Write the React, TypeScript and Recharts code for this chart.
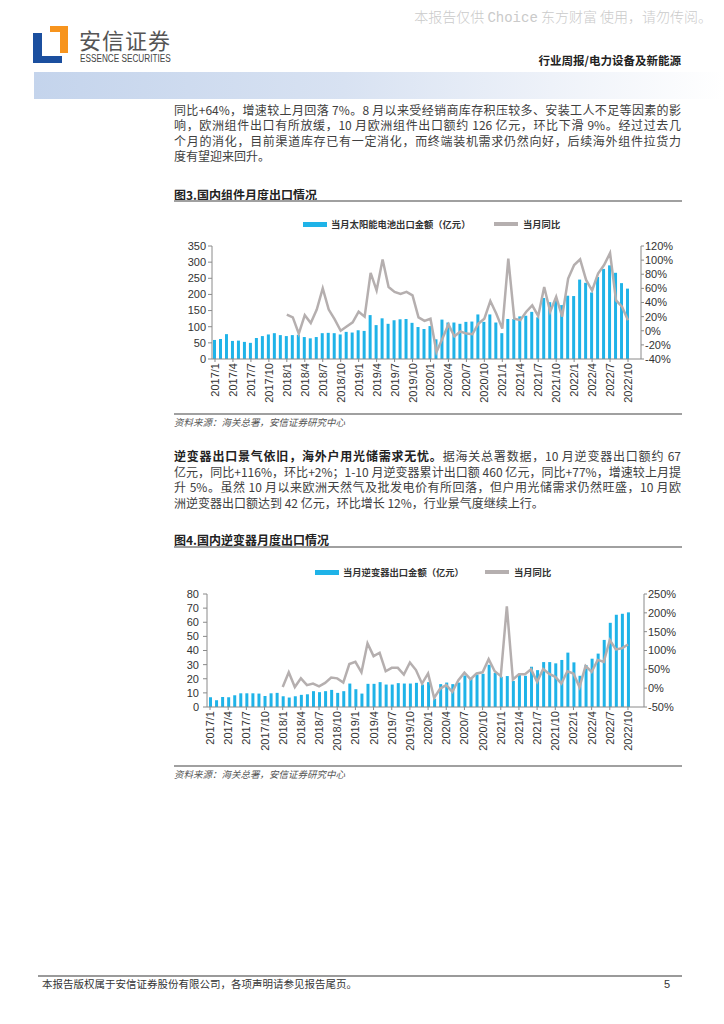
import React from 'react'
import { ComposedChart, Bar, Line, XAxis, YAxis } from 'recharts'

// month categories, 2017/1 .. 2022/10
const months = [
  '2017/1', '2017/2', '2017/3', '2017/4', '2017/5', '2017/6', '2017/7', '2017/8', '2017/9', '2017/10', '2017/11', '2017/12',
  '2018/1', '2018/2', '2018/3', '2018/4', '2018/5', '2018/6', '2018/7', '2018/8', '2018/9', '2018/10', '2018/11', '2018/12',
  '2019/1', '2019/2', '2019/3', '2019/4', '2019/5', '2019/6', '2019/7', '2019/8', '2019/9', '2019/10', '2019/11', '2019/12',
  '2020/1', '2020/2', '2020/3', '2020/4', '2020/5', '2020/6', '2020/7', '2020/8', '2020/9', '2020/10', '2020/11', '2020/12',
  '2021/1', '2021/2', '2021/3', '2021/4', '2021/5', '2021/6', '2021/7', '2021/8', '2021/9', '2021/10', '2021/11', '2021/12',
  '2022/1', '2022/2', '2022/3', '2022/4', '2022/5', '2022/6', '2022/7', '2022/8', '2022/9', '2022/10',
]

// 图3: 当月太阳能电池出口金额（亿元）
const solarExport = [
  59, 62, 77, 56, 57, 53, 50, 65, 71, 76, 80, 74,
  71, 74, 75, 68, 64, 68, 80, 81, 80, 76, 84, 82,
  89, 87, 136, 105, 126, 109, 120, 123, 124, 112, 99, 93,
  102, 61, 122, 113, 113, 109, 115, 116, 138, 115, 138, 113,
  80, 124, 124, 132, 134, 146, 129, 189, 176, 185, 167, 196,
  195, 246, 236, 206, 254, 279, 290, 267, 235, 218,
]

// 图3: 当月同比 (%)
const solarYoY = [
  null, null, null, null, null, null, null, null, null, null, null, null,
  23, 19, -4, 22, 11, 30, 60, 30, 16, 0, 6, 12,
  27, 20, 82, 57, 101, 62, 55, 52, 55, 50, 19, 14,
  17, -30, -11, 9, -8, -1, -4, -5, 10, 17, 42, 24,
  3, 102, 17, 15, 27, 36, 21, 62, 27, 48, 20, 74,
  93, 101, 72, 57, 81, 93, 110, 43, 34, 15,
]

// 图4: 当月逆变器出口金额（亿元）
const inverterExport = [
  6.9, 4.8, 7.1, 6.9, 8.3, 9.7, 9.7, 9.7, 9.5, 7.8, 9.7, 10,
  7.6, 6.7, 7.6, 8.6, 9, 11.2, 10.5, 11.2, 12.1, 10, 11.2, 16.6,
  12.6, 9.5, 16.4, 16.4, 17.6, 15.9, 15.9, 16.9, 16.6, 16.6, 17.1, 15.9,
  17.6, 5.9, 16.2, 17.3, 16.2, 17.3, 22.3, 20, 23, 23.5, 29.9, 24.2,
  21.4, 21.9, 18.5, 22.8, 22.1, 28.5, 26.1, 31.8, 31.8, 30.9, 33.3, 38.5,
  31.6, 22.1, 29.7, 34.2, 37.8, 47.5, 59.6, 65.3, 66, 67,
]

// 图4: 当月同比 (%)
const inverterYoY = [
  null, null, null, null, null, null, null, null, null, null, null, null,
  3, 42, 3, 26, 8, 12, 5, 14, 28, 26, 15, 64,
  70, 42, 119, 85, 94, 45, 54, 54, 36, 68, 48, 12,
  39, -26, -1, 8, -10, 21, 41, 24, 39, 42, 77, 45,
  32, 217, 23, 37, 37, 50, 17, 51, 38, 30, 12, 45,
  39, 3, 59, 43, 75, 70, 128, 103, 106, 116,
]

const solarTicks = [0, 50, 100, 150, 200, 250, 300, 350]
const solarPctTicks = [-40, -20, 0, 20, 40, 60, 80, 100, 120]
const inverterTicks = [0, 10, 20, 30, 40, 50, 60, 70, 80]
const inverterPctTicks = [-50, 0, 50, 100, 150, 200, 250]

const solarRows = months.map((m, i) => ({ m, v: solarExport[i], r: solarYoY[i] }))
const inverterRows = months.map((m, i) => ({ m, v: inverterExport[i], r: inverterYoY[i] }))

const cjk = '"Noto Sans CJK SC", "Noto Sans", sans-serif'
const latin = '"Liberation Sans", Arial, sans-serif'
const BAR = '#1fb3e8'
const LINE = '#b5afaf'
const AXIS = '#8a8a8a'

function MonthTick(props: any) {
  const { x, y, payload } = props
  return (
    <text
      x={x}
      y={y}
      transform={`rotate(-90 ${x} ${y})`}
      textAnchor="end"
      dominantBaseline="central"
      fontSize={11}
      fontFamily={latin}
      fill="#333"
    >
      {payload.value}
    </text>
  )
}

const axisTick = { fontSize: 11, fill: '#333', fontFamily: latin }

function TextRow({ top, children, last }: { top: number; children: React.ReactNode; last?: boolean }) {
  return (
    <div
      style={{
        position: 'absolute',
        left: 174,
        width: 507,
        top: top - 8,
        height: 16,
        lineHeight: '16px',
        fontSize: 12,
        fontFamily: cjk,
        color: '#404040',
        whiteSpace: 'nowrap',
        textAlign: last ? 'left' : 'justify',
        textAlignLast: last ? 'left' : 'justify',
      }}
    >
      {children}
    </div>
  )
}

function LegendBox({ top, barX, barText, lineX }: { top: number; barX: number; barText: string; lineX: number }) {
  const txt: React.CSSProperties = {
    position: 'absolute',
    top: top - 7,
    height: 14,
    lineHeight: '14px',
    fontSize: 9.3,
    fontWeight: 700,
    fontFamily: cjk,
    color: '#333',
    whiteSpace: 'nowrap',
  }
  return (
    <>
      <div style={{ position: 'absolute', left: barX, top: top - 2.5, width: 24, height: 5, background: BAR }} />
      <div style={{ ...txt, left: barX + 28 }}>{barText}</div>
      <div style={{ position: 'absolute', left: lineX, top: top - 1.75, width: 24, height: 3.5, background: LINE }} />
      <div style={{ ...txt, left: lineX + 29 }}>当月同比</div>
    </>
  )
}

function Rule({ top, left = 174, right = 682, color = '#a0a0a0', h = 1.5 }: any) {
  return <div style={{ position: 'absolute', left, top, width: right - left, height: h, background: color }} />
}

export default function App() {
  return (
    <div
      style={{
        position: 'absolute',
        left: 0,
        top: 0,
        width: 724,
        height: 1024,
        background: '#fff',
        overflow: 'hidden',
        fontFamily: cjk,
      }}
    >
      {/* watermark */}
      <div
        style={{
          position: 'absolute',
          right: 12,
          top: 6,
          fontSize: 14,
          lineHeight: '20px',
          color: '#cacaca',
          fontFamily: cjk,
          fontWeight: 300,
          whiteSpace: 'nowrap',
        }}
      >
        本报告仅供 <span style={{ fontFamily: '"Liberation Mono", monospace' }}>Choice</span> 东方财富 使用，请勿传阅。
      </div>

      {/* logo */}
      <div style={{ position: 'absolute', left: 50, top: 26, width: 18, height: 6, background: '#f7941d' }} />
      <div style={{ position: 'absolute', left: 60, top: 26, width: 8, height: 27, background: '#f7941d' }} />
      <div style={{ position: 'absolute', left: 33, top: 33, width: 9, height: 30, background: '#1b4f9f' }} />
      <div style={{ position: 'absolute', left: 33, top: 56, width: 29, height: 7, background: '#1b4f9f' }} />
      <div
        style={{
          position: 'absolute',
          left: 79,
          top: 28,
          height: 22,
          lineHeight: '22px',
          fontSize: 22,
          letterSpacing: 1,
          color: '#555',
          whiteSpace: 'nowrap',
        }}
      >
        安信证券
      </div>
      <div
        style={{
          position: 'absolute',
          left: 80,
          top: 53,
          height: 11,
          lineHeight: '11px',
          fontSize: 10,
          fontFamily: latin,
          color: '#444',
          whiteSpace: 'nowrap',
          transform: 'scaleX(0.82)',
          transformOrigin: 'left center',
        }}
      >
        ESSENCE SECURITIES
      </div>

      <div
        style={{
          position: 'absolute',
          right: 43,
          top: 52,
          fontSize: 11.5,
          lineHeight: '16px',
          fontWeight: 700,
          color: '#222',
          whiteSpace: 'nowrap',
        }}
      >
        行业周报/电力设备及新能源
      </div>

      {/* header band */}
      <div
        style={{
          position: 'absolute',
          left: 34,
          top: 72,
          width: 690,
          height: 27,
          background: 'linear-gradient(to right, #c4d4ec 0%, #d8e2f2 45%, #eef2f9 75%, #ffffff 100%)',
        }}
      />

      {/* paragraph 1 */}
      <TextRow top={109.5}>同比+64%，增速较上月回落 7%。8 月以来受经销商库存积压较多、安装工人不足等因素的影</TextRow>
      <TextRow top={125}>响，欧洲组件出口有所放缓，10 月欧洲组件出口额约 126 亿元，环比下滑 9%。经过过去几</TextRow>
      <TextRow top={140.5}>个月的消化，目前渠道库存已有一定消化，而终端装机需求仍然向好，后续海外组件拉货力</TextRow>
      <TextRow top={156} last>度有望迎来回升。</TextRow>

      {/* figure 3 */}
      <div style={{ position: 'absolute', left: 174, top: 187, fontSize: 12, lineHeight: '16px', fontWeight: 700, color: '#222' }}>
        图3.国内组件月度出口情况
      </div>
      <Rule top={200} />
      <LegendBox top={224} barX={303} barText="当月太阳能电池出口金额（亿元）" lineX={494} />
      <div style={{ position: 'absolute', left: 150, top: 235 }}>
        <ComposedChart width={540} height={178} data={solarRows} margin={{ top: 11, right: 4, bottom: 4, left: 0 }}>
          <XAxis
            dataKey="m"
            interval={2}
            tick={<MonthTick />}
            tickSize={3}
            tickMargin={1}
            tickLine={{ stroke: AXIS }}
            axisLine={{ stroke: AXIS }}
            height={50}
            padding={{ left: 0, right: 10 }}
          />
          <YAxis
            yAxisId="l"
            width={62}
            domain={[0, 350]}
            ticks={solarTicks}
            interval={0}
            tick={axisTick}
            tickSize={4}
            tickMargin={2}
            tickLine={{ stroke: AXIS }}
            axisLine={{ stroke: AXIS }}
          />
          <YAxis
            yAxisId="r"
            orientation="right"
            width={45}
            domain={[-40, 120]}
            ticks={solarPctTicks}
            interval={0}
            tickFormatter={(v: number) => `${v}%`}
            tick={axisTick}
            tickSize={3}
            tickMargin={1}
            tickLine={{ stroke: AXIS }}
            axisLine={{ stroke: AXIS }}
          />
          <Bar yAxisId="l" dataKey="v" fill={BAR} barSize={3} isAnimationActive={false} />
          <Line
            yAxisId="r"
            type="linear"
            dataKey="r"
            stroke={LINE}
            strokeWidth={2.5}
            dot={false}
            isAnimationActive={false}
          />
        </ComposedChart>
      </div>
      <Rule top={413} />
      <div style={{ position: 'absolute', left: 174, top: 415, fontSize: 9.5, lineHeight: '14px', fontStyle: 'italic', color: '#555' }}>
        资料来源：海关总署，安信证券研究中心
      </div>

      {/* paragraph 2 */}
      <TextRow top={456}>
        <span style={{ fontWeight: 700, color: '#222' }}>逆变器出口景气依旧，海外户用光储需求无忧。</span>据海关总署数据，10 月逆变器出口额约 67
      </TextRow>
      <TextRow top={471.5}>亿元，同比+116%，环比+2%；1-10 月逆变器累计出口额 460 亿元，同比+77%，增速较上月提</TextRow>
      <TextRow top={487}>升 5%。虽然 10 月以来欧洲天然气及批发电价有所回落，但户用光储需求仍然旺盛，10 月欧</TextRow>
      <TextRow top={502.5} last>洲逆变器出口额达到 42 亿元，环比增长 12%，行业景气度继续上行。</TextRow>

      {/* figure 4 */}
      <div style={{ position: 'absolute', left: 174, top: 532, fontSize: 12, lineHeight: '16px', fontWeight: 700, color: '#222' }}>
        图4.国内逆变器月度出口情况
      </div>
      <Rule top={546} />
      <LegendBox top={572} barX={315} barText="当月逆变器出口金额（亿元）" lineX={485} />
      <div style={{ position: 'absolute', left: 150, top: 584 }}>
        <ComposedChart width={540} height={175} data={inverterRows} margin={{ top: 10, right: 4, bottom: 4, left: 0 }}>
          <XAxis
            dataKey="m"
            interval={2}
            tick={<MonthTick />}
            tickSize={3}
            tickMargin={1}
            tickLine={{ stroke: AXIS }}
            axisLine={{ stroke: AXIS }}
            height={48}
            padding={{ left: 0, right: 13 }}
          />
          <YAxis
            yAxisId="l"
            width={57}
            domain={[0, 80]}
            ticks={inverterTicks}
            interval={0}
            tick={axisTick}
            tickSize={4}
            tickMargin={4}
            tickLine={{ stroke: AXIS }}
            axisLine={{ stroke: AXIS }}
          />
          <YAxis
            yAxisId="r"
            orientation="right"
            width={42}
            domain={[-50, 250]}
            ticks={inverterPctTicks}
            interval={0}
            tickFormatter={(v: number) => `${v}%`}
            tick={axisTick}
            tickSize={3}
            tickMargin={1}
            tickLine={{ stroke: AXIS }}
            axisLine={{ stroke: AXIS }}
          />
          <Bar yAxisId="l" dataKey="v" fill={BAR} barSize={3} isAnimationActive={false} />
          <Line
            yAxisId="r"
            type="linear"
            dataKey="r"
            stroke={LINE}
            strokeWidth={2.5}
            dot={false}
            isAnimationActive={false}
          />
        </ComposedChart>
      </div>
      <Rule top={765} />
      <div style={{ position: 'absolute', left: 174, top: 767, fontSize: 9.5, lineHeight: '14px', fontStyle: 'italic', color: '#555' }}>
        资料来源：海关总署，安信证券研究中心
      </div>

      {/* footer */}
      <Rule top={975} left={38} right={682} color="#9a9a9a" h={1.5} />
      <div style={{ position: 'absolute', left: 42, top: 977, fontSize: 10.5, lineHeight: '14px', color: '#333', whiteSpace: 'nowrap' }}>
        本报告版权属于安信证券股份有限公司，各项声明请参见报告尾页。
      </div>
      <div style={{ position: 'absolute', left: 664, top: 977, fontSize: 11, lineHeight: '14px', color: '#333', fontFamily: latin }}>
        5
      </div>
    </div>
  )
}
